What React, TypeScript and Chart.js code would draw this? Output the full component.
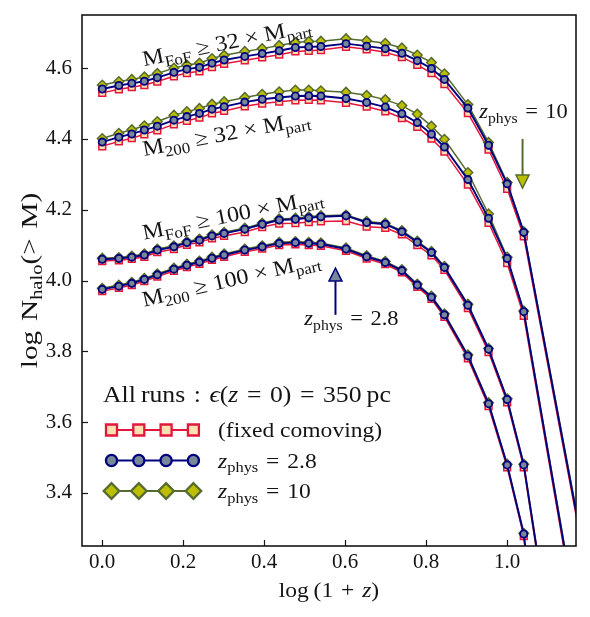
import React, { useEffect, useRef } from 'react';
import { Chart, registerables } from 'chart.js';

Chart.register(...registerables);

// Snapshot sampling, log(1+z)
const logOnePlusZ = [0, 0.041, 0.073, 0.104, 0.136, 0.177, 0.209, 0.24, 0.271, 0.301, 0.352, 0.395, 0.437, 0.477, 0.51, 0.54, 0.602, 0.653, 0.699, 0.74, 0.778, 0.813, 0.845, 0.903, 0.954, 1.0, 1.041, 1.204];

// M_FoF >= 32 x M_part
const fof32Comoving = [4.530, 4.540, 4.546, 4.552, 4.562, 4.577, 4.586, 4.591, 4.603, 4.612, 4.622, 4.630, 4.638, 4.647, 4.649, 4.651, 4.660, 4.653, 4.645, 4.631, 4.609, 4.586, 4.555, 4.473, 4.370, 4.259, 4.125, 3.13];
const fof32Phys28 = [4.541, 4.551, 4.557, 4.563, 4.573, 4.588, 4.597, 4.602, 4.614, 4.623, 4.633, 4.641, 4.649, 4.658, 4.660, 4.661, 4.669, 4.662, 4.655, 4.642, 4.621, 4.599, 4.568, 4.487, 4.382, 4.273, 4.136, 3.14];
const fof32Phys10 = [4.552, 4.562, 4.568, 4.575, 4.585, 4.600, 4.609, 4.614, 4.627, 4.636, 4.647, 4.655, 4.664, 4.672, 4.675, 4.676, 4.683, 4.677, 4.670, 4.657, 4.637, 4.616, 4.584, 4.497, 4.390, 4.277, 4.138, 3.15];

// M_200 >= 32 x M_part
const m200x32Comoving = [4.379, 4.393, 4.402, 4.413, 4.424, 4.441, 4.451, 4.460, 4.472, 4.479, 4.492, 4.500, 4.505, 4.509, 4.510, 4.509, 4.502, 4.491, 4.478, 4.459, 4.434, 4.401, 4.364, 4.271, 4.163, 4.049, 3.900, 2.82];
const m200x32Phys28 = [4.391, 4.405, 4.414, 4.425, 4.436, 4.453, 4.463, 4.472, 4.484, 4.491, 4.504, 4.512, 4.517, 4.521, 4.522, 4.521, 4.514, 4.503, 4.490, 4.471, 4.446, 4.413, 4.377, 4.285, 4.176, 4.062, 3.912, 2.83];
const m200x32Phys10 = [4.401, 4.416, 4.426, 4.437, 4.449, 4.467, 4.477, 4.486, 4.498, 4.505, 4.517, 4.526, 4.533, 4.538, 4.538, 4.536, 4.532, 4.523, 4.511, 4.494, 4.470, 4.436, 4.399, 4.305, 4.188, 4.066, 3.914, 2.84];

// M_FoF >= 100 x M_part
const fof100Comoving = [4.055, 4.057, 4.061, 4.067, 4.080, 4.089, 4.101, 4.108, 4.119, 4.126, 4.137, 4.151, 4.161, 4.162, 4.165, 4.167, 4.168, 4.152, 4.149, 4.130, 4.100, 4.071, 4.030, 3.922, 3.798, 3.656, 3.472, 2.26];
const fof100Phys28 = [4.060, 4.062, 4.066, 4.072, 4.086, 4.095, 4.107, 4.114, 4.126, 4.133, 4.145, 4.159, 4.171, 4.173, 4.177, 4.180, 4.183, 4.164, 4.159, 4.138, 4.108, 4.079, 4.037, 3.930, 3.806, 3.664, 3.479, 2.27];
const fof100Phys10 = [4.063, 4.065, 4.069, 4.075, 4.089, 4.098, 4.110, 4.117, 4.129, 4.136, 4.148, 4.162, 4.174, 4.176, 4.180, 4.183, 4.185, 4.167, 4.162, 4.141, 4.111, 4.082, 4.040, 3.933, 3.808, 3.666, 3.481, 2.28];

// M_200 >= 100 x M_part
const m200x100Comoving = [3.970, 3.979, 3.987, 3.998, 4.011, 4.027, 4.038, 4.047, 4.058, 4.067, 4.081, 4.090, 4.100, 4.102, 4.100, 4.098, 4.084, 4.062, 4.046, 4.023, 3.982, 3.948, 3.897, 3.780, 3.645, 3.472, 3.278, 1.59];
const m200x100Phys28 = [3.975, 3.984, 3.992, 4.003, 4.016, 4.032, 4.043, 4.052, 4.063, 4.072, 4.086, 4.095, 4.105, 4.107, 4.105, 4.103, 4.089, 4.067, 4.051, 4.028, 3.987, 3.953, 3.903, 3.787, 3.652, 3.479, 3.284, 1.60];
const m200x100Phys10 = [3.978, 3.987, 3.995, 4.006, 4.019, 4.035, 4.046, 4.055, 4.066, 4.075, 4.089, 4.098, 4.108, 4.110, 4.108, 4.106, 4.092, 4.070, 4.054, 4.031, 3.990, 3.956, 3.906, 3.790, 3.655, 3.481, 3.286, 1.61];

const xTicks = [0, 0.2, 0.4, 0.6, 0.8, 1.0];
const yTicks = [3.4, 3.6, 3.8, 4.0, 4.2, 4.4, 4.6];

const FONT = '"Liberation Serif", "DejaVu Serif", serif';
const INK = '#141414';
const CRIMSON = '#e3163c';
const BISQUE = '#fde0b2';
const NAVY = '#00007f';
const SLATE = '#778899';
const OLIVE = '#556b2f';
const CHARTREUSE = '#bcbf00';

// spacing around relations and operators in math-style text
const SP = '\u2004';
const THIN = '\u2009';

type Seg = { t: string; it?: boolean; sub?: boolean };

const segFont = (s: Seg, size: number) =>
  `${s.it ? 'italic ' : ''}${s.sub ? size * 0.7 : size}px ${FONT}`;

function drawRich(
  ctx: CanvasRenderingContext2D,
  segs: Seg[],
  x: number,
  y: number,
  size: number,
  angle = 0,
  align: 'left' | 'center' = 'left',
  stretch = 1.07
) {
  ctx.save();
  ctx.translate(x, y);
  ctx.rotate((angle * Math.PI) / 180);
  ctx.scale(stretch, 1);
  ctx.fillStyle = INK;
  ctx.textAlign = 'left';
  ctx.textBaseline = 'alphabetic';
  const widths = segs.map((s) => {
    ctx.font = segFont(s, size);
    return ctx.measureText(s.t).width;
  });
  const total = widths.reduce((a, b) => a + b, 0);
  let cx = align === 'center' ? -total / 2 : 0;
  segs.forEach((s, i) => {
    ctx.font = segFont(s, size);
    ctx.fillText(s.t, cx, s.sub ? size * 0.22 : 0);
    cx += widths[i];
  });
  ctx.restore();
}

// Curve labels anchored at the left baseline, in data coordinates
const curveLabels: { segs: Seg[]; x: number; y: number; angle: number }[] = [
  { segs: [{ t: 'M' }, { t: 'FoF', sub: true }, { t: ` ≥ 32 × M` }, { t: 'part', sub: true }], x: 0.103, y: 4.605, angle: -11.5 },
  { segs: [{ t: 'M' }, { t: '200', sub: true }, { t: ` ≥ 32 × M` }, { t: 'part', sub: true }], x: 0.103, y: 4.352, angle: -10.5 },
  { segs: [{ t: 'M' }, { t: 'FoF', sub: true }, { t: ` ≥ 100 × M` }, { t: 'part', sub: true }], x: 0.103, y: 4.115, angle: -11.5 },
  { segs: [{ t: 'M' }, { t: '200', sub: true }, { t: ` ≥ 100 × M` }, { t: 'part', sub: true }], x: 0.103, y: 3.926, angle: -13 },
];

const zPhys = (v: string): Seg[] => [{ t: 'z', it: true }, { t: 'phys', sub: true }, { t: `${SP}=${SP}${v}` }];

const arrowNotes = [
  { segs: zPhys('10'), tx: 0.931, ty: 4.459, x: 1.038, from: 4.4, to: 4.261, line: OLIVE, head: CHARTREUSE },
  { segs: zPhys('2.8'), tx: 0.499, ty: 3.874, x: 0.576, from: 3.903, to: 4.035, line: NAVY, head: SLATE },
];

type Marker = 'rect' | 'circle' | 'rectRot';

function drawMarker(ctx: CanvasRenderingContext2D, kind: Marker, x: number, y: number, r: number, fill: string, edge: string, lw: number) {
  ctx.beginPath();
  if (kind === 'rect') ctx.rect(x - r, y - r, 2 * r, 2 * r);
  else if (kind === 'circle') ctx.arc(x, y, r, 0, Math.PI * 2);
  else {
    ctx.moveTo(x - r, y);
    ctx.lineTo(x, y - r);
    ctx.lineTo(x + r, y);
    ctx.lineTo(x, y + r);
    ctx.closePath();
  }
  ctx.fillStyle = fill;
  ctx.fill();
  ctx.lineWidth = lw;
  ctx.strokeStyle = edge;
  ctx.stroke();
}

const legendRows: { kind: Marker; r: number; fill: string; edge: string; segs: Seg[] }[] = [
  { kind: 'rect', r: 5.5, fill: BISQUE, edge: CRIMSON, segs: [{ t: '(fixed comoving)' }] },
  { kind: 'circle', r: 5.6, fill: SLATE, edge: NAVY, segs: zPhys('2.8') },
  { kind: 'rectRot', r: 7.8, fill: CHARTREUSE, edge: OLIVE, segs: zPhys('10') },
];

const overlay = {
  id: 'overlay',
  afterDatasetsDraw(chart: any) {
    const { ctx, chartArea: a, scales } = chart;
    const xs = scales.x;
    const ys = scales.y;
    ctx.save();

    // inward tick marks
    ctx.strokeStyle = INK;
    ctx.lineWidth = 1.2;
    xTicks.forEach((v) => {
      const px = Math.round(xs.getPixelForValue(v)) + 0.5;
      ctx.beginPath();
      ctx.moveTo(px, a.bottom);
      ctx.lineTo(px, a.bottom - 6);
      ctx.stroke();
    });
    yTicks.forEach((v) => {
      const py = Math.round(ys.getPixelForValue(v)) + 0.5;
      ctx.beginPath();
      ctx.moveTo(a.left, py);
      ctx.lineTo(a.left + 6, py);
      ctx.stroke();
    });

    // axes frame
    ctx.lineWidth = 1.6;
    ctx.strokeRect(a.left, a.top, a.right - a.left, a.bottom - a.top);

    // curve labels
    curveLabels.forEach((l) =>
      drawRich(ctx, l.segs, xs.getPixelForValue(l.x), ys.getPixelForValue(l.y), 22, l.angle, 'left', 1.1)
    );

    // arrows with annotations
    arrowNotes.forEach((n) => {
      const px = xs.getPixelForValue(n.x);
      const p0 = ys.getPixelForValue(n.from);
      const p1 = ys.getPixelForValue(n.to);
      const dir = p1 > p0 ? 1 : -1;
      const headLen = 13;
      const base = p1 - dir * headLen;
      ctx.strokeStyle = n.line;
      ctx.lineWidth = 2;
      ctx.beginPath();
      ctx.moveTo(px, p0);
      ctx.lineTo(px, base);
      ctx.stroke();
      ctx.beginPath();
      ctx.moveTo(px - 6.5, base);
      ctx.lineTo(px + 6.5, base);
      ctx.lineTo(px, p1);
      ctx.closePath();
      ctx.fillStyle = n.head;
      ctx.fill();
      ctx.lineWidth = 1.5;
      ctx.stroke();
      drawRich(ctx, n.segs, xs.getPixelForValue(n.tx), ys.getPixelForValue(n.ty), 21);
    });

    // legend
    const lx = a.left + 21;
    drawRich(
      ctx,
      [
        { t: `All${THIN}runs${SP}:${SP}` },
        { t: 'ϵ', it: true },
        { t: '(' },
        { t: 'z', it: true },
        { t: `${SP}=${SP}0)${SP}=${SP}350${THIN}pc` },
      ],
      lx,
      a.top + 387,
      24
    );
    legendRows.forEach((row, i) => {
      const cy = a.top + 415 + i * 30.5;
      const mx = [0, 27.3, 54.6, 81.9].map((d) => lx + 8.5 + d);
      ctx.strokeStyle = row.edge;
      ctx.lineWidth = 1.8;
      ctx.beginPath();
      ctx.moveTo(mx[0], cy);
      ctx.lineTo(mx[3], cy);
      ctx.stroke();
      mx.forEach((m) => drawMarker(ctx, row.kind, m, cy, row.r, row.fill, row.edge, 2.3));
      drawRich(ctx, row.segs, lx + 115, cy + 7, 22);
    });

    // axis titles
    drawRich(
      ctx,
      [{ t: `log${SP}N` }, { t: 'halo', sub: true }, { t: `(>${SP}M)` }],
      37,
      (a.top + a.bottom) / 2,
      24,
      -90,
      'center',
      1.22
    );
    drawRich(ctx, [{ t: `log${THIN}(1${SP}+${SP}` }, { t: 'z', it: true }, { t: ')' }], (a.left + a.right) / 2, 597, 22, 0, 'center');

    ctx.restore();
  },
};

const series = (vals: number[]) => logOnePlusZ.map((x, i) => ({ x, y: vals[i] }));

const comovingStyle = {
  borderColor: CRIMSON,
  backgroundColor: BISQUE,
  pointStyle: 'rect',
  pointRadius: 4.8,
  pointBorderWidth: 1.5,
  borderWidth: 1.5,
  order: 2,
};
const phys28Style = {
  borderColor: NAVY,
  backgroundColor: SLATE,
  pointStyle: 'circle',
  pointRadius: 3.6,
  pointBorderWidth: 1.8,
  borderWidth: 1.9,
  order: 0,
};
const phys10Style = {
  borderColor: OLIVE,
  backgroundColor: CHARTREUSE,
  pointStyle: 'rectRot',
  pointRadius: 4.8,
  pointBorderWidth: 1.5,
  borderWidth: 1.5,
  order: 1,
};

const groups = [
  [fof32Comoving, fof32Phys28, fof32Phys10],
  [m200x32Comoving, m200x32Phys28, m200x32Phys10],
  [fof100Comoving, fof100Phys28, fof100Phys10],
  [m200x100Comoving, m200x100Phys28, m200x100Phys10],
];

export default function App() {
  const canvasRef = useRef<HTMLCanvasElement>(null);

  useEffect(() => {
    const datasets: any[] = [];
    groups.forEach(([com, p28, p10]) => {
      datasets.push({ data: series(com), ...comovingStyle, tension: 0, fill: false });
      datasets.push({ data: series(p10), ...phys10Style, tension: 0, fill: false });
      datasets.push({ data: series(p28), ...phys28Style, tension: 0, fill: false });
    });

    const tickFont = { family: FONT, size: 21 };
    const chart = new Chart(canvasRef.current as HTMLCanvasElement, {
      type: 'line',
      data: { datasets },
      options: {
        animation: false,
        responsive: false,
        devicePixelRatio: 1,
        layout: { padding: { left: 0, right: 14, top: 15, bottom: 0 } },
        plugins: { legend: { display: false }, tooltip: { enabled: false } },
        scales: {
          x: {
            type: 'linear',
            min: -0.05,
            max: 1.17,
            grid: { display: false, drawTicks: false },
            border: { display: false },
            afterBuildTicks: (ax: any) => {
              ax.ticks = xTicks.map((v) => ({ value: v }));
            },
            afterFit: (ax: any) => {
              ax.height = 71;
              ax.paddingLeft = 0;
              ax.paddingRight = 0;
            },
            ticks: {
              font: tickFont,
              color: INK,
              padding: 4,
              maxRotation: 0,
              autoSkip: false,
              callback: (v: any) => Number(v).toFixed(1),
            },
          },
          y: {
            type: 'linear',
            min: 3.25,
            max: 4.75,
            grid: { display: false, drawTicks: false },
            border: { display: false },
            afterBuildTicks: (ax: any) => {
              ax.ticks = yTicks.map((v) => ({ value: v }));
            },
            afterFit: (ax: any) => {
              ax.width = 82;
              ax.paddingTop = 0;
              ax.paddingBottom = 0;
            },
            ticks: {
              font: tickFont,
              color: INK,
              padding: 10,
              autoSkip: false,
              callback: (v: any) => Number(v).toFixed(1),
            },
          },
        },
      } as any,
      plugins: [overlay],
    });
    return () => chart.destroy();
  }, []);

  return (
    <div style={{ position: 'absolute', left: 0, top: 0, width: 590, height: 617, background: '#fff' }}>
      <canvas ref={canvasRef} width={590} height={617} style={{ display: 'block', width: 590, height: 617 }} />
    </div>
  );
}
